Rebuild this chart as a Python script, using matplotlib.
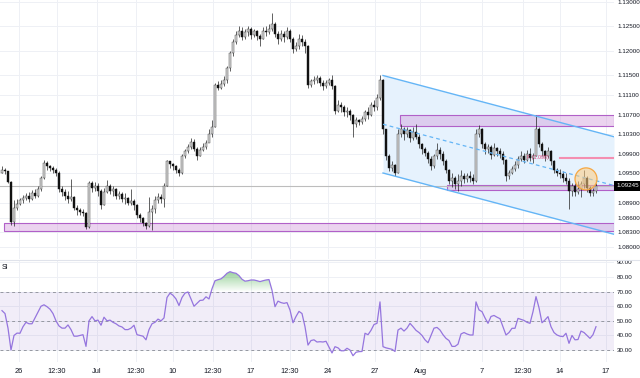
import numpy as np
import matplotlib
matplotlib.use('Agg')
import matplotlib.pyplot as plt
from matplotlib.patches import Ellipse, Rectangle
from matplotlib.path import Path
from matplotlib.colors import LinearSegmentedColormap
import matplotlib.transforms as mtransforms

plt.rcParams['font.family'] = ['Liberation Sans', 'DejaVu Sans']

# ---------------- data ----------------
first_open = 1.0952
closes = [
    1.0958, 1.0955, 1.0932, 1.0850, 1.0880, 1.0888, 1.0895, 1.0900, 1.0905, 1.0898,
    1.0910, 1.0905, 1.0918, 1.0940, 1.0972, 1.0965, 1.0962, 1.0958, 1.0950, 1.0918,
    1.0912, 1.0905, 1.0898, 1.0902, 1.0880, 1.0875, 1.0872, 1.0870, 1.0840, 1.0930,
    1.0920, 1.0925, 1.0915, 1.0885, 1.0912, 1.0925, 1.0915, 1.0918, 1.0905, 1.0908,
    1.0898, 1.0900, 1.0890, 1.0893, 1.0885, 1.0865, 1.0860, 1.0848, 1.0843, 1.0872,
    1.0878, 1.0895, 1.0903, 1.0898, 1.0925, 1.0975, 1.0970, 1.0965, 1.0958, 1.0952,
    1.0985, 1.0995, 1.1005, 1.1015, 1.1000, 1.0985, 1.0998, 1.1005, 1.1012, 1.1030,
    1.1045, 1.1130, 1.1125, 1.1133, 1.1140, 1.1165, 1.1195, 1.1218, 1.1232, 1.1240,
    1.1228, 1.1238, 1.1245, 1.1232, 1.1240, 1.1230, 1.1225, 1.1240, 1.1238, 1.1245,
    1.1255, 1.1235, 1.1225, 1.1235, 1.1228, 1.1240, 1.1225, 1.1205, 1.1210, 1.1225,
    1.1218, 1.1210, 1.1130, 1.1138, 1.1140, 1.1145, 1.1135, 1.1128, 1.1135, 1.1140,
    1.1128, 1.1078, 1.1090, 1.1085, 1.1075, 1.1078, 1.1070, 1.1050, 1.1060, 1.1055,
    1.1062, 1.1075, 1.1070, 1.1090, 1.1085, 1.1105, 1.1140, 1.1040, 1.0985, 1.0962,
    1.0968, 1.0952, 1.1030, 1.1040, 1.1030, 1.1038, 1.1022, 1.1035, 1.1025, 1.1010,
    1.1000, 1.0992, 1.0980, 1.0965, 1.0985, 1.0998, 1.0990, 1.0975, 1.0958, 1.0935,
    1.0940, 1.0928, 1.0935, 1.0945, 1.0938, 1.0945, 1.0940, 1.0935, 1.1030, 1.1040,
    1.1010, 1.1000, 1.1005, 1.0988, 1.1002, 1.0995, 1.0990, 1.0978, 1.0945, 1.0950,
    1.0960, 1.0968, 1.0980, 1.0985, 1.0978, 1.0990, 1.0982, 1.0985, 1.1040, 1.1010,
    1.0995, 1.0985, 1.0995, 1.0975, 1.0958, 1.0952, 1.0948, 1.0940, 1.0935, 1.0915,
    1.0925, 1.0912, 1.0918, 1.0928, 1.0940, 1.0920, 1.0910, 1.0915, 1.09245,
]
highs = [
    1.0965, 1.0962, 1.0955, 1.0935, 1.0895, 1.0898, 1.0900, 1.0906, 1.0910, 1.0912,
    1.0916, 1.0918, 1.0925, 1.0945, 1.0978, 1.0975, 1.0968, 1.0966, 1.0962, 1.0955,
    1.0925, 1.0918, 1.0915, 1.0938, 1.0905, 1.0885, 1.0880, 1.0878, 1.0872, 1.0935,
    1.0935, 1.0932, 1.0930, 1.0918, 1.0920, 1.0937, 1.0928, 1.0925, 1.0920, 1.0915,
    1.0912, 1.0910, 1.0902, 1.0918, 1.0898, 1.0888, 1.0870, 1.0862, 1.0852, 1.0902,
    1.0885, 1.0905, 1.0910, 1.0908, 1.0930, 1.0978, 1.0976, 1.0972, 1.0968, 1.0962,
    1.0990, 1.1000, 1.1010, 1.1022, 1.1020, 1.1005, 1.1005, 1.1012, 1.1018, 1.1040,
    1.1060, 1.1135, 1.1138, 1.1140, 1.1148, 1.1170, 1.1200, 1.1225, 1.1240, 1.1250,
    1.1248, 1.1245, 1.1250, 1.1248, 1.1245, 1.1242, 1.1235, 1.1248, 1.1252, 1.1255,
    1.1278, 1.1260, 1.1240, 1.1242, 1.1240, 1.1248, 1.1245, 1.1228, 1.1218, 1.1235,
    1.1232, 1.1225, 1.1212, 1.1142, 1.1148, 1.1150, 1.1148, 1.1140, 1.1140, 1.1145,
    1.1150, 1.1130, 1.1100, 1.1095, 1.1090, 1.1085, 1.1082, 1.1072, 1.1065, 1.1062,
    1.1068, 1.1080, 1.1085, 1.1095, 1.1100, 1.1112, 1.1150, 1.1142, 1.1040, 1.0990,
    1.0975, 1.0970, 1.1040, 1.1050, 1.1045, 1.1045, 1.1040, 1.1045, 1.1050, 1.1030,
    1.1012, 1.1005, 1.0995, 1.0985, 1.0990, 1.1012, 1.1005, 1.0995, 1.0980, 1.0960,
    1.0950, 1.0945, 1.0948, 1.0958, 1.0950, 1.0952, 1.0955, 1.0948, 1.1040, 1.1048,
    1.1042, 1.1015, 1.1010, 1.1008, 1.1012, 1.1005, 1.1002, 1.0995, 1.0980, 1.0958,
    1.0966, 1.0975, 1.0985, 1.0995, 1.0992, 1.0998, 1.1002, 1.0992, 1.1069, 1.1045,
    1.1015, 1.0998, 1.1005, 1.0998, 1.0978, 1.0962, 1.0960, 1.0955, 1.0950, 1.0940,
    1.0930, 1.0930, 1.0935, 1.0935, 1.0958, 1.0945, 1.0925, 1.0920, 1.0930,
]
lows = [
    1.0950, 1.0948, 1.0930, 1.0845, 1.0843, 1.0876, 1.0885, 1.0890, 1.0895, 1.0892,
    1.0896, 1.0900, 1.0902, 1.0915, 1.0938, 1.0958, 1.0955, 1.0952, 1.0945, 1.0912,
    1.0905, 1.0896, 1.0890, 1.0893, 1.0875, 1.0865, 1.0866, 1.0864, 1.0836, 1.0838,
    1.0912, 1.0915, 1.0905, 1.0878, 1.0885, 1.0910, 1.0908, 1.0905, 1.0898, 1.0898,
    1.0892, 1.0888, 1.0885, 1.0886, 1.0875, 1.0860, 1.0852, 1.0842, 1.0836, 1.0840,
    1.0835, 1.0870, 1.0890, 1.0890, 1.0882, 1.0925, 1.0962, 1.0958, 1.0952, 1.0945,
    1.0948, 1.0982, 1.0992, 1.1000, 1.0995, 1.0978, 1.0985, 1.0995, 1.1000, 1.1015,
    1.1025, 1.1045, 1.1120, 1.1122, 1.1128, 1.1135, 1.1160, 1.1190, 1.1215, 1.1228,
    1.1222, 1.1225, 1.1230, 1.1225, 1.1228, 1.1222, 1.1210, 1.1225, 1.1230, 1.1235,
    1.1240, 1.1228, 1.1215, 1.1220, 1.1218, 1.1225, 1.1218, 1.1195, 1.1200, 1.1205,
    1.1210, 1.1195, 1.1125, 1.1126, 1.1132, 1.1135, 1.1128, 1.1120, 1.1125, 1.1130,
    1.1122, 1.1072, 1.1075, 1.1075, 1.1068, 1.1065, 1.1060, 1.1025, 1.1045, 1.1048,
    1.1050, 1.1058, 1.1062, 1.1068, 1.1078, 1.1080, 1.1100, 1.1030, 1.0978, 1.0955,
    1.0955, 1.0945, 1.0950, 1.1025, 1.1018, 1.1025, 1.1015, 1.1018, 1.1020, 1.1002,
    1.0990, 1.0985, 1.0972, 1.0958, 1.0962, 1.0980, 1.0980, 1.0968, 1.0950, 1.0928,
    1.0922, 1.0918, 1.0915, 1.0925, 1.0930, 1.0932, 1.0932, 1.0928, 1.0932, 1.1025,
    1.1002, 1.0990, 1.0992, 1.0980, 1.0985, 1.0985, 1.0982, 1.0970, 1.0935, 1.0938,
    1.0948, 1.0955, 1.0962, 1.0975, 1.0972, 1.0975, 1.0975, 1.0972, 1.0985, 1.1005,
    1.0985, 1.0975, 1.0982, 1.0968, 1.0950, 1.0945, 1.0940, 1.0932, 1.0928, 1.0878,
    1.0905, 1.0905, 1.0908, 1.0902, 1.0920, 1.0912, 1.0905, 1.0905, 1.0910,
]
rsi = [
    57, 55, 45, 30, 40, 41.6, 41.5, 46, 49, 48,
    48, 52, 56, 60, 61, 59.7, 58, 55, 50, 46.5,
    45, 45, 47.2, 44, 39.5, 39.5, 40, 40.5, 32.5, 50,
    52.9, 50, 50.5, 47, 52.5, 50, 50.5, 49, 48, 46.5,
    45.8, 44, 44, 45, 47, 40.5, 40, 39.5, 37, 44,
    48, 49, 51.2, 50, 52, 66, 69, 67.5, 65, 60.5,
    66, 69, 69.8, 65, 60, 62, 64, 64.2, 66.5, 65,
    72, 77.5, 78.2, 78.8, 80.5, 82.6, 83.7, 83, 82.6, 81,
    78.5, 77.2, 77.5, 78, 78, 77.5, 76.9, 77.5, 78, 78.3,
    71, 59.7, 63.5, 62.5, 62, 62.5, 57.4, 48.7, 53, 56.5,
    55, 46, 33.4, 36.5, 37, 35.5, 35.7, 35.5, 36, 32,
    28, 32.3, 31.5, 29.5, 29.5, 31.2, 30, 26.1, 28.5, 28.9,
    29, 41.5, 40.5, 43.5, 47.5, 48.3, 63, 32.3, 31.5, 31,
    30.5, 29, 43.7, 45, 43, 45, 48.3, 46, 43.5, 42,
    40, 37, 35, 40, 45, 45.5, 43.7, 40.5, 38, 36.5,
    32.5, 32.5, 34, 41, 42, 41, 40.3, 40.3, 63, 57.5,
    56.3, 52, 48.3, 53, 53.7, 52.5, 51.5, 46, 40.3, 42,
    44.9, 44.9, 51.7, 51, 50.3, 49, 48.3, 56.3, 66.6, 59,
    48.7, 50.6, 52.9, 46, 42, 40.3, 39.5, 39.2, 41.5, 34.6,
    40, 37, 37.2, 43, 42, 40, 38, 40.5, 46,
]

price_ticks = [1.13, 1.125, 1.12, 1.115, 1.111, 1.107, 1.103, 1.099, 1.095,
               1.089, 1.086, 1.083, 1.080]
price_tick_labels = ['1.13000', '1.12500', '1.12000', '1.11500', '1.11100', '1.10700',
                     '1.10300', '1.09900', '1.09500', '1.08900', '1.08600', '1.08300',
                     '1.08000']
last_price = 1.09245
last_price_label = '1.09245'
rsi_ticks = [30, 40, 50, 60, 70, 80, 90]
rsi_tick_labels = ['30.00', '40.00', '50.00', '60.00', '70.00', '80.00', '90.00']
xtick_pos = [5.67, 18.33, 31.67, 44.67, 57, 70.33, 83, 96, 108.67, 124.33,
             139.33, 160, 173.67, 186, 201.33]
xtick_labels = ['26', '12:30', 'Jul', '12:30', '10', '12:30', '17', '12:30', '24',
                '27', 'Aug', '7', '12:30', '14', '17']

# drawings (bar-index / price coordinates)
channel_x = [127, 204]
channel_upper = [1.1150, 1.1025]
channel_lower = [1.0951, 1.0826]
zone_left = [0.67, 132.67, 148.3]
zone_low = [1.0833, 1.1047, 1.0916]
zone_high = [1.0848, 1.1069, 1.0926]
fib_start = 186
fib_level = 1.0982
fib_text = 'F (1.098)'
fib_text_x = 175
circle_center = (194.67, 1.0939)
circle_size = (7.33, 0.00449)

x_min, x_max = -0.667, 204
price_min, price_max = 1.077551, 1.130408
rsi_min, rsi_max = 21.8, 91.7

# ---------------- figure ----------------
fig = plt.figure(figsize=(6.4, 3.78), dpi=100)
fig.patch.set_facecolor('white')
ax = fig.add_axes([0, 1 - 259 / 378, 614 / 640, 259 / 378])
ax2 = fig.add_axes([0, 16 / 378, 614 / 640, 102 / 378])

grid_c = '#eef0f5'
label_c = '#131722'
fs = 5.3
fs_y = 4.5

for a in (ax, ax2):
    for s in a.spines.values():
        s.set_visible(False)
    a.set_xlim(x_min, x_max)
    a.set_axisbelow(True)
    a.set_xticks(xtick_pos)
    a.grid(True, color=grid_c, lw=0.7)
    a.yaxis.tick_right()
    a.tick_params(length=0, labelsize=fs, labelcolor=label_c, pad=3)
    a.tick_params(axis='y', labelsize=fs_y, pad=2.2)

ax.set_xticklabels([])
ax.set_ylim(price_min, price_max)
ax.set_yticks(price_ticks)
ax.set_yticklabels(price_tick_labels)

ax2.set_xticklabels(xtick_labels)
ax2.tick_params(axis='x', pad=4)
ax2.set_ylim(rsi_min, rsi_max)
ax2.set_yticks(rsi_ticks)
ax2.set_yticklabels(rsi_tick_labels)

# separator between panes
fig.add_artist(plt.Line2D([0, 1], [1 - 259.5 / 378] * 2, transform=fig.transFigure,
                          color='#e0e3eb', lw=0.8))

# channel
cx = np.array(channel_x, dtype=float)
ax.fill_between(cx, channel_lower, channel_upper, color='#e6f2fd', zorder=1, lw=0)
ax.plot(cx, channel_upper, color='#64b5f6', lw=1.0, zorder=4)
ax.plot(cx, channel_lower, color='#64b5f6', lw=1.0, zorder=4)
ax.plot(cx, (np.array(channel_upper) + np.array(channel_lower)) / 2,
        color='#64b5f6', lw=0.9, ls=(0, (3, 2.5)), zorder=4)

# zones
for zl, lo, hi in zip(zone_left, zone_low, zone_high):
    ax.add_patch(Rectangle((zl, lo), x_max - zl, hi - lo, facecolor='#ce93d8',
                           alpha=0.4, edgecolor='none', zorder=2))
    ax.add_patch(Rectangle((zl, lo), x_max - zl, hi - lo, facecolor='none',
                           edgecolor='#b160c8', lw=0.8, zorder=2.1))

# last price line
ax.axhline(last_price, color='#bdbdbd', lw=0.8, zorder=2.2)

# fib line
ax.plot([fib_start, x_max], [fib_level, fib_level], color='#f48fb1', lw=1.5, zorder=2.3)
ax.text(fib_text_x, fib_level, fib_text, color='#e0457b', fontsize=3.8,
        va='center', ha='left', zorder=6)

# candles
x = np.arange(len(closes))
c = np.array(closes)
o = np.array([first_open] + closes[:-1])
h = np.array(highs)
l = np.array(lows)
up = c >= o
ax.vlines(x, l, h, color='#222222', lw=0.5, zorder=3)
body_lo = np.minimum(o, c)
body_h = np.abs(c - o)
ax.bar(x[up], body_h[up], bottom=body_lo[up], width=0.5, color='#d8d8d8',
       edgecolor='#333333', lw=0.3, zorder=3.1)
ax.bar(x[~up], body_h[~up], bottom=body_lo[~up], width=0.5, color='#111111',
       edgecolor='#111111', lw=0.3, zorder=3.1)

# circle
ax.add_patch(Ellipse(circle_center, circle_size[0], circle_size[1],
                     facecolor='#ffcc80', alpha=0.55, edgecolor='none', zorder=5))
ax.add_patch(Ellipse(circle_center, circle_size[0], circle_size[1],
                     facecolor='none', edgecolor='#f5a742', lw=0.9, zorder=5.1))

# last price box
trans = mtransforms.blended_transform_factory(ax.transAxes, ax.transData)
ax.text(1.0 + 2.5 / 614, last_price, last_price_label, transform=trans, ha='left',
        va='center', color='white', fontsize=fs_y, clip_on=False, zorder=10,
        bbox=dict(boxstyle='square,pad=0.35', fc='black', ec='none'))

# ---------------- RSI ----------------
xr = np.arange(len(rsi))
r = np.array(rsi, dtype=float)
ax2.axhspan(30, 70, color='#7e57c2', alpha=0.1, lw=0)
for lv in (70, 50, 30):
    ax2.axhline(lv, color='#9598a1', lw=0.7, ls=(0, (3, 3)))

poly = ax2.fill_between(xr, 70, r, where=r >= 70, interpolate=True,
                        facecolor='none', edgecolor='none')
paths = poly.get_paths()
if paths:
    comp = Path.make_compound_path(*paths)
    cmap = LinearSegmentedColormap.from_list(
        'g', [(0.30, 0.69, 0.31, 0.0), (0.30, 0.69, 0.31, 0.55)])
    grad = np.linspace(0, 1, 100).reshape(-1, 1)
    im = ax2.imshow(grad, cmap=cmap, aspect='auto', origin='lower',
                    extent=[x_min, x_max, 70, r.max()], zorder=2)
    im.set_clip_path(comp, transform=ax2.transData)
ax2.set_xlim(x_min, x_max)
ax2.set_ylim(rsi_min, rsi_max)
ax2.plot(xr, r, color='#9575de', lw=0.9, zorder=3)
ax2.text(0.002, 0.93, 'SI', transform=ax2.transAxes, fontsize=5, color=label_c,
         va='center', ha='left')

fig.savefig('out.png', dpi=100, facecolor='white')
